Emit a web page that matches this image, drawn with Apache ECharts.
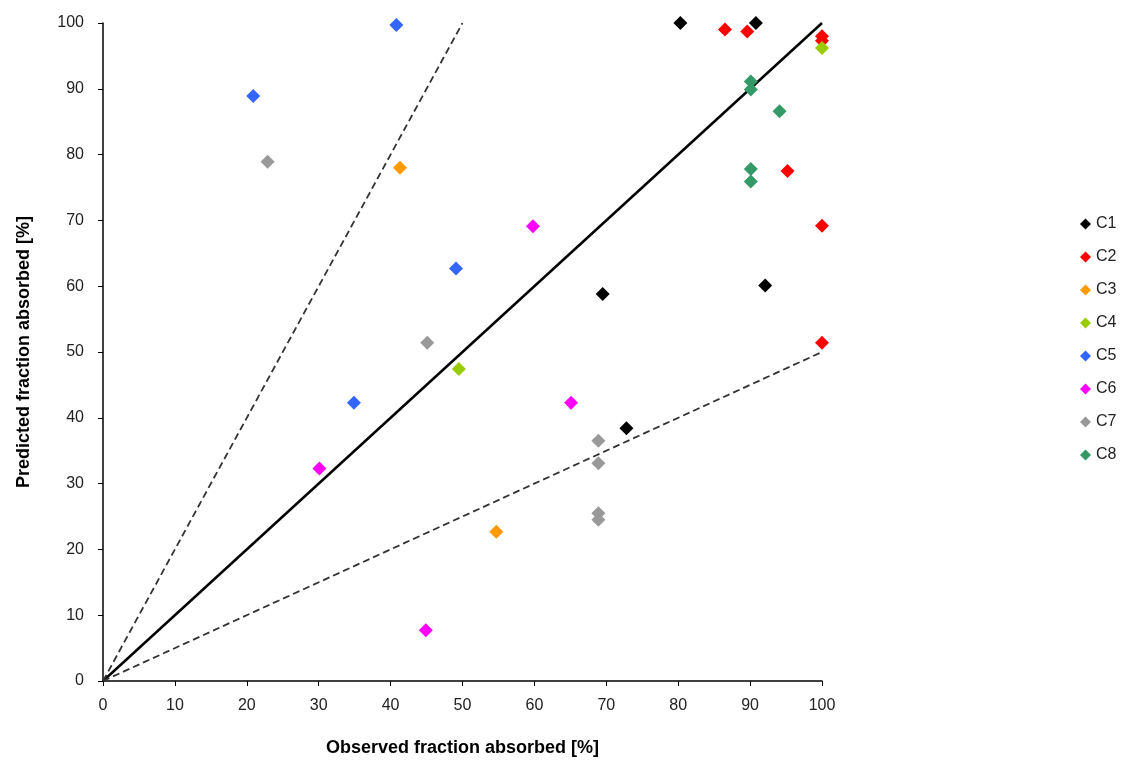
<!DOCTYPE html>
<html>
<head>
<meta charset="utf-8">
<script src="https://cdn.jsdelivr.net/npm/echarts@6/dist/echarts.min.js"></script>
<style>
  html, body { margin: 0; padding: 0; background: #fff; }
  #main { width: 1124px; height: 762px; }
</style>
</head>
<body>
<div id="main"></div>
<script>
// observed vs predicted fraction absorbed, per compound group
var names = ['C1', 'C2', 'C3', 'C4', 'C5', 'C6', 'C7', 'C8'];
var colors = ['#000000', '#ff0000', '#ff9900', '#99cc00', '#3366ff', '#ff00ff', '#999999', '#339966'];

var c1 = [[80.3, 100], [90.8, 100], [69.5, 58.8], [92.1, 60.1], [72.8, 38.4]];
var c2 = [[86.5, 99.0], [89.6, 98.7], [100, 98.0], [100, 97.3], [95.2, 77.5], [100, 69.2], [100, 51.4]];
var c3 = [[41.3, 78.0], [54.7, 22.7]];
var c4 = [[100, 96.2], [49.5, 47.4]];
var c5 = [[40.8, 99.7], [20.9, 88.9], [49.1, 62.7], [34.9, 42.3]];
var c6 = [[59.8, 69.1], [65.1, 42.3], [30.1, 32.3], [44.9, 7.7]];
var c7 = [[22.9, 78.9], [45.1, 51.4], [68.9, 36.5], [68.9, 33.1], [68.9, 25.5], [68.9, 24.5]];
var c8 = [[90.1, 91.1], [90.1, 89.9], [94.1, 86.6], [90.1, 77.8], [90.1, 75.9]];
var groups = [c1, c2, c3, c4, c5, c6, c7, c8];

// reference lines: y = x, y = 2x, y = x/2
var lineUnity = [[0, 0], [100, 100]];
var lineDouble = [[0, 0], [50, 100]];
var lineHalf = [[0, 0], [100, 50]];

var chart = echarts.init(document.getElementById('main'));

var series = [
    {
        type: 'line', data: lineUnity, symbol: 'none', silent: true,
        lineStyle: { color: '#000', width: 2.5 }, z: 1
    },
    {
        type: 'line', data: lineDouble, symbol: 'none', silent: true,
        lineStyle: { color: '#333', width: 1.8, type: [7, 4] }, z: 1
    },
    {
        type: 'line', data: lineHalf, symbol: 'none', silent: true,
        lineStyle: { color: '#333', width: 1.8, type: [7, 4] }, z: 1
    }
];
groups.forEach(function (g, i) {
    series.push({
        name: names[i],
        type: 'scatter',
        symbol: 'diamond',
        symbolSize: 14,
        itemStyle: { color: colors[i], opacity: 1 },
        data: g,
        z: 3
    });
});

var labelFont = { fontFamily: 'Arial, Liberation Sans', fontSize: 16, color: '#222' };

chart.setOption({
    animation: false,
    color: colors,
    grid: { left: 103, right: 302, top: 23, bottom: 79 },
    legend: {
        data: names,
        orient: 'vertical',
        left: 1075,
        top: 211,
        itemGap: 17,
        itemWidth: 11,
        itemHeight: 11,
        icon: 'diamond',
        textStyle: { fontFamily: 'Arial, Liberation Sans', fontSize: 16, color: '#222' }
    },
    xAxis: {
        type: 'value',
        min: 0, max: 100, interval: 10,
        name: 'Observed fraction absorbed [%]',
        nameLocation: 'middle',
        nameGap: 58,
        nameTextStyle: { fontFamily: 'Arial, Liberation Sans', fontSize: 18, fontWeight: 'bold', color: '#000' },
        axisLine: { lineStyle: { color: '#000', width: 1.5 } },
        axisTick: { show: true, length: 5, lineStyle: { color: '#000' } },
        axisLabel: Object.assign({ margin: 17 }, labelFont),
        splitLine: { show: false }
    },
    yAxis: {
        type: 'value',
        min: 0, max: 100, interval: 10,
        name: 'Predicted fraction absorbed [%]',
        nameLocation: 'middle',
        nameGap: 70,
        nameTextStyle: { fontFamily: 'Arial, Liberation Sans', fontSize: 18, fontWeight: 'bold', color: '#000' },
        axisLine: { show: true, lineStyle: { color: '#000', width: 1.5 } },
        axisTick: { show: true, length: 5, lineStyle: { color: '#000' } },
        axisLabel: Object.assign({ margin: 19 }, labelFont),
        splitLine: { show: false }
    },
    series: series
});
</script>
</body>
</html>
